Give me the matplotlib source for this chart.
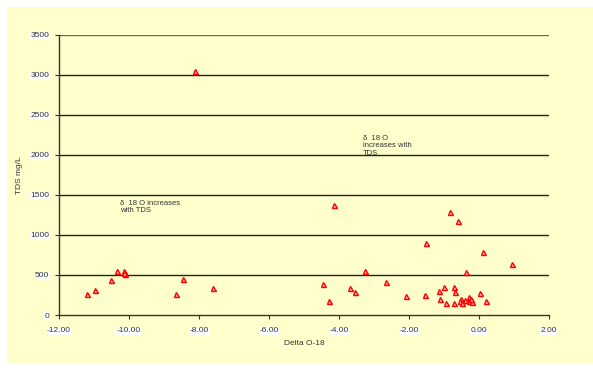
import matplotlib
matplotlib.use("Agg")
import matplotlib.pyplot as plt
from matplotlib.patches import Rectangle

delta_o18 = [-8.11, -11.19, -10.98, -10.51, -10.35, -10.13, -10.12, -10.14,
             -8.65, -8.46, -7.61,
             -4.13, -0.82, -0.58, -1.51, 0.13, 0.95, -3.25, -0.37, -2.66,
             -4.44, -3.67, -3.54, -4.27, -2.09, -1.53, -1.13, -0.98, -1.10,
             -0.94, -0.71, -0.68, -0.70, -0.51, -0.53, -0.49, -0.27, -0.28,
             -0.18, 0.04, 0.20, -0.40, -0.22]
tds = [3046, 258, 308, 441, 549, 545, 510, 520,
       262, 445, 337,
       1373, 1290, 1173, 895, 790, 641, 545, 533, 412,
       383, 341, 291, 171, 233, 246, 300, 345, 204,
       154, 354, 287, 150, 204, 179, 150, 221, 179,
       166, 275, 171, 190, 200]

x_ticks = [-12, -10, -8, -6, -4, -2, 0, 2]
y_ticks = [0, 500, 1000, 1500, 2000, 2500, 3000, 3500]

plt.rcParams['font.family'] = ['Liberation Sans', 'DejaVu Sans']

fig = plt.figure(figsize=(5.93, 3.68), dpi=100)
fig.patch.set_facecolor('white')
bg = '#FFFFCC'
fig.patches.append(Rectangle((7/593, 1-363/368), (593-7)/593, (363-7)/368,
                             transform=fig.transFigure, facecolor=bg,
                             edgecolor='none', zorder=-10))

ax = fig.add_axes([59/593, 1-315/368, (548.7-59)/593, (315-34.7)/368])
ax.set_facecolor(bg)
ax.set_xlim(-12, 2)
ax.set_ylim(0, 3500)
ax.set_xticks(x_ticks)
ax.set_yticks(y_ticks)
ax.set_xticklabels([f"{v:.2f}" for v in x_ticks])
ax.set_yticklabels([str(v) for v in y_ticks])
for lab in ax.get_xticklabels() + ax.get_yticklabels():
    lab.set_bbox(dict(facecolor='white', edgecolor='none', pad=0.5))
ax.tick_params(axis='both', labelsize=6, length=3, width=0.8, color='#333333',
               direction='out', labelcolor='#333333')
ax.tick_params(axis='x', pad=6)
ax.tick_params(axis='y', pad=4)

for y in y_ticks[1:]:
    ax.axhline(y, color='#6b6b50' if y == 3500 else '#222222', lw=1.0, zorder=1)

for s in ['top', 'right']:
    ax.spines[s].set_visible(False)
for s in ['left', 'bottom']:
    ax.spines[s].set_color('#333333')
    ax.spines[s].set_linewidth(1.0)

ax.plot(delta_o18, tds, linestyle='none', marker='^', markersize=3.6,
        markerfacecolor='#ffb0b0', markeredgecolor='red', markeredgewidth=1.0,
        zorder=3)

ax.set_xlabel('Delta O-18', fontsize=6, color='#333333', labelpad=4)
ax.set_ylabel('TDS mg/L', fontsize=6, color='#333333', labelpad=5)

ax.text(-10.25, 1440, 'δ  18 O increases\nwith TDS', fontsize=5.5,
        color='#333333', va='top', ha='left', linespacing=1.1)
ax.text(-3.31, 2250, 'δ  18 O\nincreases with\nTDS', fontsize=5.5,
        color='#333333', va='top', ha='left', linespacing=1.1)

fig.savefig('out.png', dpi=100, facecolor=fig.get_facecolor())
